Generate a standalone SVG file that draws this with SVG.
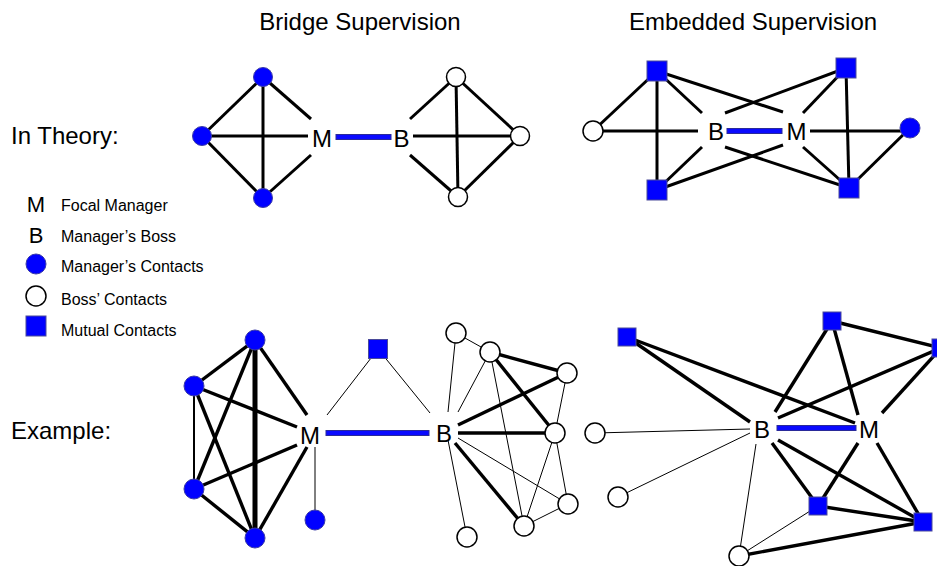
<svg xmlns="http://www.w3.org/2000/svg" width="937" height="566" viewBox="0 0 937 566">
<style>
text{font-family:"Liberation Sans",Arial,sans-serif;fill:#000}
.title{font-size:24px;text-anchor:middle}
.row{font-size:24px}
.lbl{font-size:24px;text-anchor:middle}
.leg{font-size:16px}
.legl{font-size:22px;text-anchor:middle}
.bc{fill:#0000ff;stroke:#3a3aa8;stroke-width:1}
.wc{fill:#fff;stroke:#000;stroke-width:1.5}
.sq{fill:#0000ff;stroke:#4a4a9a;stroke-width:1}
.bar{fill:#0a0aff;stroke:#2a2a9a;stroke-width:1}
#connectors line{stroke:#000;stroke-linecap:butt}
.t{stroke-width:3}
.k{stroke-width:3.4}
.kk{stroke-width:5}
.m{stroke-width:2}
.n{stroke-width:1}
</style>
<rect width="937" height="566" fill="#fff"/>
<text class="title" x="360" y="30">Bridge Supervision</text>
<text class="title" x="753" y="30">Embedded Supervision</text>
<text class="row" x="11" y="144">In Theory:</text>
<text class="row" x="11" y="439">Example:</text>

<g id="legend">
<text class="legl" x="36" y="212">M</text>
<text class="legl" x="36" y="243">B</text>
<circle class="bc" cx="36" cy="264" r="10"/>
<circle class="wc" cx="36" cy="296" r="10"/>
<rect class="sq" x="26" y="316" width="20" height="20"/>
<text class="leg" x="61" y="211">Focal Manager</text>
<text class="leg" x="61" y="242">Manager’s Boss</text>
<text class="leg" x="61" y="272">Manager’s Contacts</text>
<text class="leg" x="61" y="305">Boss’ Contacts</text>
<text class="leg" x="61" y="336">Mutual Contacts</text>
</g>

<g id="connectors">
<!-- theory bridge -->
<line class="t" x1="263" y1="77" x2="202" y2="136"/>
<line class="t" x1="202" y1="136" x2="263" y2="198"/>
<line class="t" x1="263" y1="77" x2="263" y2="198"/>
<line class="t" x1="202" y1="136" x2="308" y2="136"/>
<line class="t" x1="263" y1="77" x2="311" y2="119"/>
<line class="t" x1="263" y1="198" x2="311" y2="155"/>
<line class="t" x1="413" y1="136" x2="520" y2="136"/>
<line class="t" x1="456" y1="77" x2="410" y2="119"/>
<line class="t" x1="458" y1="197" x2="410" y2="155"/>
<line class="t" x1="456" y1="77" x2="520" y2="136"/>
<line class="t" x1="520" y1="136" x2="458" y2="197"/>
<line class="t" x1="456" y1="77" x2="458" y2="197"/>
<rect class="bar" x="336" y="134.5" width="55" height="5"/>
<!-- theory embedded -->
<line class="t" x1="593" y1="131" x2="657" y2="71"/>
<line class="t" x1="593" y1="131" x2="698" y2="131"/>
<line class="t" x1="657" y1="71" x2="657" y2="190"/>
<line class="t" x1="657" y1="71" x2="702" y2="113"/>
<line class="t" x1="657" y1="71" x2="783" y2="112"/>
<line class="t" x1="846" y1="68" x2="725" y2="113"/>
<line class="t" x1="846" y1="68" x2="803" y2="113"/>
<line class="t" x1="846" y1="68" x2="849" y2="188"/>
<line class="t" x1="810" y1="131" x2="905" y2="131"/>
<line class="t" x1="657" y1="190" x2="702" y2="147"/>
<line class="t" x1="657" y1="190" x2="783" y2="145"/>
<line class="t" x1="849" y1="188" x2="725" y2="147"/>
<line class="t" x1="849" y1="188" x2="803" y2="147"/>
<line class="t" x1="849" y1="188" x2="910" y2="128"/>
<rect class="bar" x="727" y="128.5" width="55" height="5"/>
<!-- example bridge -->
<line class="k" x1="255" y1="340" x2="194" y2="386"/>
<line class="k" x1="255" y1="340" x2="194" y2="489"/>
<line class="kk" x1="255" y1="340" x2="255" y2="538"/>
<line class="k" x1="255" y1="340" x2="307" y2="415"/>
<line class="m" x1="194" y1="386" x2="194" y2="489"/>
<line class="k" x1="194" y1="386" x2="255" y2="538"/>
<line class="k" x1="194" y1="386" x2="297" y2="427"/>
<line class="k" x1="194" y1="489" x2="297" y2="445"/>
<line class="k" x1="194" y1="489" x2="255" y2="538"/>
<line class="k" x1="255" y1="538" x2="307" y2="447"/>
<line class="n" x1="315" y1="447" x2="315" y2="510"/>
<line class="n" x1="327" y1="415" x2="378" y2="349"/>
<line class="n" x1="378" y1="349" x2="430" y2="413"/>
<line class="n" x1="456" y1="333" x2="490" y2="352"/>
<line class="n" x1="456" y1="333" x2="448" y2="412"/>
<line class="n" x1="490" y1="352" x2="458" y2="412"/>
<line class="k" x1="490" y1="352" x2="567" y2="373"/>
<line class="k" x1="490" y1="352" x2="555" y2="433"/>
<line class="n" x1="490" y1="352" x2="524" y2="526"/>
<line class="k" x1="567" y1="373" x2="458" y2="425"/>
<line class="n" x1="567" y1="373" x2="555" y2="433"/>
<line class="k" x1="458" y1="433" x2="555" y2="433"/>
<line class="n" x1="555" y1="433" x2="568" y2="504"/>
<line class="n" x1="555" y1="433" x2="524" y2="526"/>
<line class="n" x1="458" y1="438" x2="568" y2="504"/>
<line class="k" x1="455" y1="443" x2="524" y2="526"/>
<line class="n" x1="568" y1="504" x2="524" y2="526"/>
<line class="n" x1="448" y1="440" x2="467" y2="537"/>
<rect class="bar" x="326" y="430.5" width="103" height="5"/>
<!-- example embedded -->
<line class="k" x1="627" y1="337" x2="750" y2="422"/>
<line class="k" x1="627" y1="337" x2="855" y2="423"/>
<line class="n" x1="595" y1="433" x2="750" y2="429"/>
<line class="n" x1="618" y1="497" x2="750" y2="433"/>
<line class="n" x1="739" y1="556" x2="756" y2="444"/>
<line class="k" x1="832" y1="321" x2="775" y2="412"/>
<line class="k" x1="832" y1="321" x2="858" y2="415"/>
<line class="k" x1="832" y1="321" x2="941" y2="348"/>
<line class="k" x1="941" y1="348" x2="778" y2="418"/>
<line class="k" x1="941" y1="348" x2="882" y2="413"/>
<line class="k" x1="772" y1="443" x2="818" y2="506"/>
<line class="k" x1="778" y1="440" x2="923" y2="522"/>
<line class="k" x1="858" y1="443" x2="818" y2="506"/>
<line class="k" x1="877" y1="443" x2="923" y2="522"/>
<line class="k" x1="818" y1="506" x2="923" y2="522"/>
<line class="n" x1="818" y1="506" x2="739" y2="556"/>
<line class="k" x1="739" y1="556" x2="923" y2="522"/>
<rect class="bar" x="777" y="425.5" width="79" height="5"/>
</g>

<!-- theory bridge nodes -->
<g id="tb-c1"><circle class="bc" cx="263" cy="77" r="9.5"/></g>
<g id="tb-c2"><circle class="bc" cx="202" cy="136" r="9.5"/></g>
<g id="tb-c3"><circle class="bc" cx="263" cy="198" r="9.5"/></g>
<g id="tb-M"><text class="lbl" x="322" y="146.5">M</text></g>
<g id="tb-B"><text class="lbl" x="401.5" y="146.5">B</text></g>
<g id="tb-w1"><circle class="wc" cx="456" cy="77" r="9.5"/></g>
<g id="tb-w2"><circle class="wc" cx="520" cy="136" r="9.5"/></g>
<g id="tb-w3"><circle class="wc" cx="458" cy="197" r="9.5"/></g>

<!-- theory embedded nodes -->
<g id="te-w"><circle class="wc" cx="593" cy="131" r="10"/></g>
<g id="te-c"><circle class="bc" cx="910" cy="128" r="10"/></g>
<g id="te-s1"><rect class="sq" x="647" y="61" width="20" height="20"/></g>
<g id="te-s2"><rect class="sq" x="836" y="58" width="20" height="20"/></g>
<g id="te-s3"><rect class="sq" x="647" y="180" width="20" height="20"/></g>
<g id="te-s4"><rect class="sq" x="839" y="178" width="20" height="20"/></g>
<g id="te-B"><text class="lbl" x="716" y="139.5">B</text></g>
<g id="te-M"><text class="lbl" x="796.5" y="139.5">M</text></g>

<!-- example bridge nodes -->
<g id="eb-c1"><circle class="bc" cx="255" cy="340" r="10"/></g>
<g id="eb-c2"><circle class="bc" cx="194" cy="386" r="10"/></g>
<g id="eb-c3"><circle class="bc" cx="194" cy="489" r="10"/></g>
<g id="eb-c4"><circle class="bc" cx="255" cy="538" r="10"/></g>
<g id="eb-c5"><circle class="bc" cx="315" cy="520" r="10"/></g>
<g id="eb-s"><rect class="sq" x="368.5" y="339.5" width="19" height="19"/></g>
<g id="eb-M"><text class="lbl" x="310" y="443.5">M</text></g>
<g id="eb-B"><text class="lbl" x="444" y="442">B</text></g>
<g id="eb-w1"><circle class="wc" cx="456" cy="333" r="10"/></g>
<g id="eb-w2"><circle class="wc" cx="490" cy="352" r="10"/></g>
<g id="eb-w3"><circle class="wc" cx="567" cy="373" r="10"/></g>
<g id="eb-w4"><circle class="wc" cx="555" cy="433" r="10"/></g>
<g id="eb-w5"><circle class="wc" cx="568" cy="504" r="10"/></g>
<g id="eb-w6"><circle class="wc" cx="524" cy="526" r="10"/></g>
<g id="eb-w7"><circle class="wc" cx="467" cy="537" r="10"/></g>

<!-- example embedded nodes -->
<g id="ee-s1"><rect class="sq" x="618" y="328" width="18" height="18"/></g>
<g id="ee-w1"><circle class="wc" cx="595" cy="433" r="10"/></g>
<g id="ee-w2"><circle class="wc" cx="618" cy="497" r="10"/></g>
<g id="ee-w3"><circle class="wc" cx="739" cy="556" r="10"/></g>
<g id="ee-s2"><rect class="sq" x="823" y="312" width="18" height="18"/></g>
<g id="ee-s3"><rect class="sq" x="932" y="339" width="18" height="18"/></g>
<g id="ee-s4"><rect class="sq" x="809" y="497" width="18" height="18"/></g>
<g id="ee-s5"><rect class="sq" x="914" y="513" width="18" height="18"/></g>
<g id="ee-B"><text class="lbl" x="762" y="438">B</text></g>
<g id="ee-M"><text class="lbl" x="869" y="438">M</text></g>
</svg>
